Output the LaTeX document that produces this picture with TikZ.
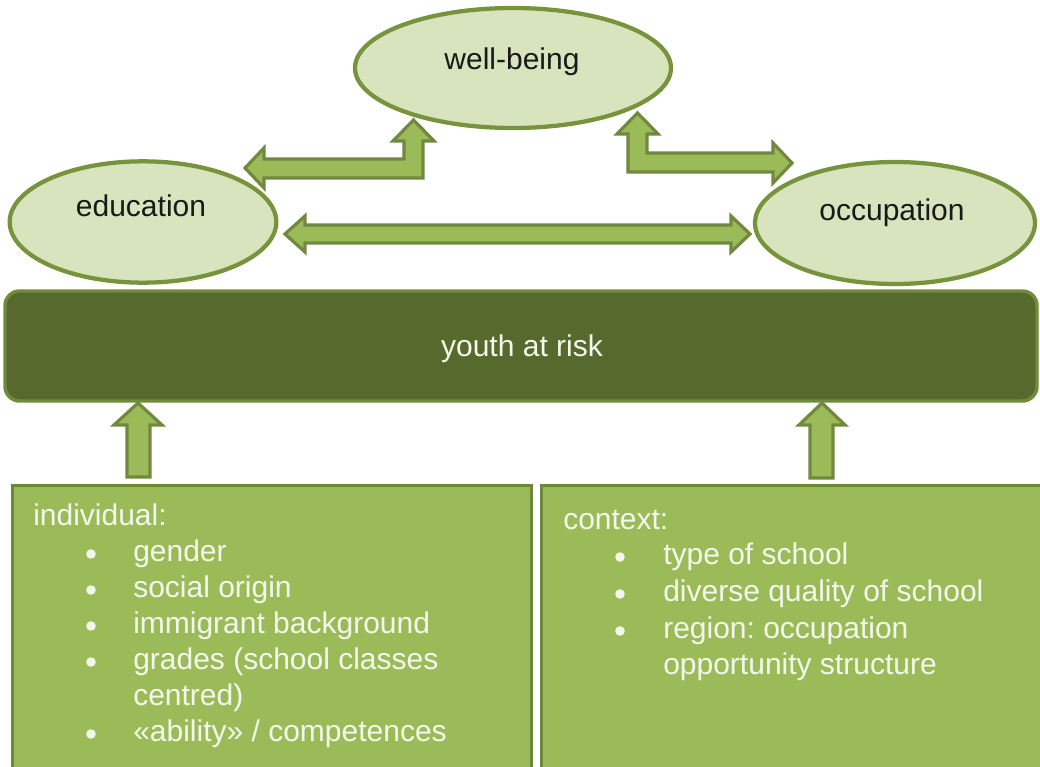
\documentclass[tikz,border=0pt]{standalone}
\usepackage{fontspec}
\setmainfont{Liberation Sans}
\usetikzlibrary{shapes.geometric}
\definecolor{ellfill}{HTML}{D7E4BD}
\definecolor{ellline}{HTML}{77933C}
\definecolor{arrfill}{HTML}{9BBB59}
\definecolor{arrline}{HTML}{71893F}
\definecolor{barfill}{HTML}{556A2C}
\definecolor{barline}{HTML}{6F8C3A}
\definecolor{boxfill}{HTML}{9BBB59}
\definecolor{boxline}{HTML}{6E873B}
\definecolor{boxtext}{HTML}{F4F8EC}
\frenchspacing
\tikzset{
  bigtext/.style={font=\fontsize{22.5}{27}\selectfont},
  oval/.style={ellipse, draw=ellline, fill=ellfill, line width=3.2pt, inner sep=0pt},
  ovaltext/.style={bigtext, text=black!90, anchor=base, inner sep=0pt},
  blockarrow/.style={draw=arrline, fill=arrfill, line width=2.4pt, line join=miter},
  factorbox/.style={draw=boxline, fill=boxfill, line width=2.6pt, anchor=north west, inner sep=0pt},
  boxline/.style={bigtext, text=boxtext, anchor=base west, inner sep=0pt},
  dot/.style={fill=boxtext, draw=none}
}
\begin{document}
\begin{tikzpicture}[x=0.75pt, y=-0.75pt]
\useasboundingbox (0,0) rectangle (1040,767);
\clip (0,0) rectangle (1040,767);

% the three outcome domains
\node[oval, minimum width=237pt, minimum height=90pt] (wb) at (513,68) {};
\node[oval, minimum width=200pt, minimum height=91pt] (edu) at (143,222) {};
\node[oval, minimum width=210pt, minimum height=91.5pt] (occ) at (895,223) {};
\node[ovaltext] (wbt) at (512,70) {well-being};
\node[ovaltext] (edut) at (141,216) {education};
\node[ovaltext] (occt) at (892,220) {occupation};

% block arrows linking the domains
\path[blockarrow] (285,234) -- (305,216) -- (305,225) -- (731,225) -- (731,216)
  -- (750,234) -- (731,252) -- (731,243) -- (305,243) -- (305,252) -- cycle;
\path[blockarrow] (245,168) -- (264,148) -- (264,159) -- (404,159) -- (404,141)
  -- (393,141) -- (413.5,120) -- (434,141) -- (423,141) -- (423,178) -- (264,178)
  -- (264,188) -- cycle;
\path[blockarrow] (637.5,113) -- (658,134) -- (647,134) -- (647,153) -- (773,153)
  -- (773,143) -- (792,163) -- (773,183) -- (773,172) -- (628,172) -- (628,134)
  -- (617,134) -- cycle;

% central bar
\node[draw=barline, fill=barfill, line width=2.6pt, rounded corners=11pt,
      minimum width=774pt, minimum height=82.5pt, inner sep=0pt] (risk) at (521,346) {};
\node[bigtext, text=boxtext, anchor=base, inner sep=0pt] (riskt) at (522,356) {youth at risk};

% factor boxes
\node[factorbox, minimum width=389pt, minimum height=230pt] (ind) at (11,484) {};
\node[factorbox, minimum width=380pt, minimum height=230pt] (ctx) at (540,484) {};

% arrows from the factor boxes up to the bar
\path[blockarrow] (138,403) -- (162,425) -- (150,425) -- (150,477) -- (127,477)
  -- (127,425) -- (114,425) -- cycle;
\path[blockarrow] (822,403) -- (845,425) -- (833,425) -- (833,478) -- (810,478)
  -- (810,425) -- (799,425) -- cycle;

% individual factors
\node[boxline] (ih) at (33,525) {individual:};
\foreach \y/\t [count=\i] in {561/{gender}, 597/{social origin}, 633/{immigrant background},
    669/{grades (school classes}, 741/{«ability» / competences}} {
  \fill[dot] (91,\y-7) circle[radius=3.6pt];
  \node[boxline] (i\i) at (133,\y) {\t};
}
\node[boxline] (i6) at (133,705) {centred)};

% context factors
\node[boxline] (ch) at (563,529) {context:};
\foreach \y/\t [count=\i] in {564/{type of school}, 601/{diverse quality of school},
    638/{region: occupation}} {
  \fill[dot] (620,\y-7) circle[radius=3.6pt];
  \node[boxline] (c\i) at (663,\y) {\t};
}
\node[boxline] (c4) at (663,674) {opportunity structure};
\end{tikzpicture}
\end{document}
